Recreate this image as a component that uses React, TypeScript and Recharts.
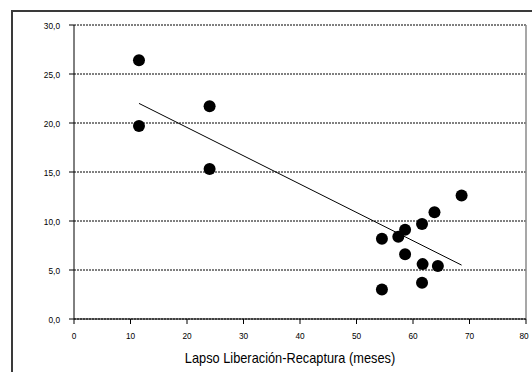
import { ScatterChart, Scatter, XAxis, YAxis, CartesianGrid, ReferenceLine } from 'recharts';

// meses entre liberación y recaptura / valor medido
const lapsoMeses = [11.5, 11.5, 24, 24, 54.5, 54.5, 57.4, 58.6, 58.6, 61.6, 61.7, 61.6, 63.8, 64.4, 68.6];
const valores = [26.4, 19.7, 21.7, 15.3, 8.2, 3.0, 8.4, 9.1, 6.6, 9.7, 5.6, 3.7, 10.9, 5.4, 12.6];

// recta de tendencia (extremos)
const tendenciaX = [11.5, 68.6];
const tendenciaY = [22.0, 5.5];

const xTicks = [0, 10, 20, 30, 40, 50, 60, 70, 80];
const yTicks = [0, 5, 10, 15, 20, 25, 30];

const FONT = '"Liberation Sans", Arial, sans-serif';
const STRETCH = 1.2; // el original está estirado en vertical

const puntos = lapsoMeses.map((x, i) => ({ x, y: valores[i] }));
const tendencia = tendenciaX.map((x, i) => ({ x, y: tendenciaY[i] }));

const Dot = (props: any) => <circle cx={props.cx} cy={props.cy} r={6} fill="#000" />;
const NoDot = () => <g />;

const XTick = (props: any) => (
  <text
    transform={`translate(${props.x},${props.y + 7.1}) scale(1,${STRETCH})`}
    textAnchor="middle"
    fontSize={8.3}
    fontFamily={FONT}
    fill="#000"
  >
    {props.payload.value}
  </text>
);

const YTick = (props: any) => (
  <text
    transform={`translate(${props.x},${props.y + 3.5}) scale(1,${STRETCH})`}
    textAnchor="end"
    fontSize={8.3}
    fontFamily={FONT}
    fill="#000"
  >
    {Number(props.payload.value).toFixed(1).replace('.', ',')}
  </text>
);

const Titulo = (props: any) => {
  const vb = props.viewBox ?? { x: 0, y: 0, width: 0, height: 0 };
  return (
    <text
      transform={`translate(${vb.x + vb.width / 2 - 10},${vb.y + vb.height}) scale(1,${STRETCH})`}
      textAnchor="middle"
      fontSize={12.8}
      fontFamily={FONT}
      fill="#000"
    >
      Lapso Liberación-Recaptura (meses)
    </text>
  );
};

export default function App() {
  return (
    <div style={{ position: 'fixed', left: 0, top: 0, width: 532, height: 372, overflow: 'hidden', background: '#fff' }}>
      <svg width={532} height={372} style={{ position: 'absolute', left: 0, top: 0 }}>
        <path d="M12 400 V11 H600" fill="none" stroke="#3a3a3a" strokeWidth={2} />
      </svg>
      <div style={{ position: 'absolute', left: 0, top: 0 }}>
        <ScatterChart width={532} height={372} margin={{ top: 25, right: 6, bottom: 9, left: 0 }}>
          <CartesianGrid vertical={false} stroke="#000" strokeDasharray="2 1" ticks={yTicks} />
          <XAxis
            type="number"
            dataKey="x"
            domain={[0, 80]}
            ticks={xTicks}
            height={44}
            axisLine={{ stroke: '#000' }}
            tickLine={{ stroke: '#000' }}
            tickSize={5}
            tickMargin={7.7}
            tick={<XTick />}
            label={<Titulo />}
          />
          <YAxis
            type="number"
            dataKey="y"
            domain={[0, 30]}
            ticks={yTicks}
            width={74}
            axisLine={{ stroke: '#000' }}
            tickLine={{ stroke: '#000' }}
            tickSize={5}
            tickMargin={9}
            tick={<YTick />}
          />
          <ReferenceLine x={80} stroke="#8a8a8a" strokeWidth={1.5} />
          <Scatter data={tendencia} line={{ stroke: '#000', strokeWidth: 1 }} shape={NoDot} isAnimationActive={false} />
          <Scatter data={puntos} shape={Dot} isAnimationActive={false} />
        </ScatterChart>
      </div>
    </div>
  );
}
